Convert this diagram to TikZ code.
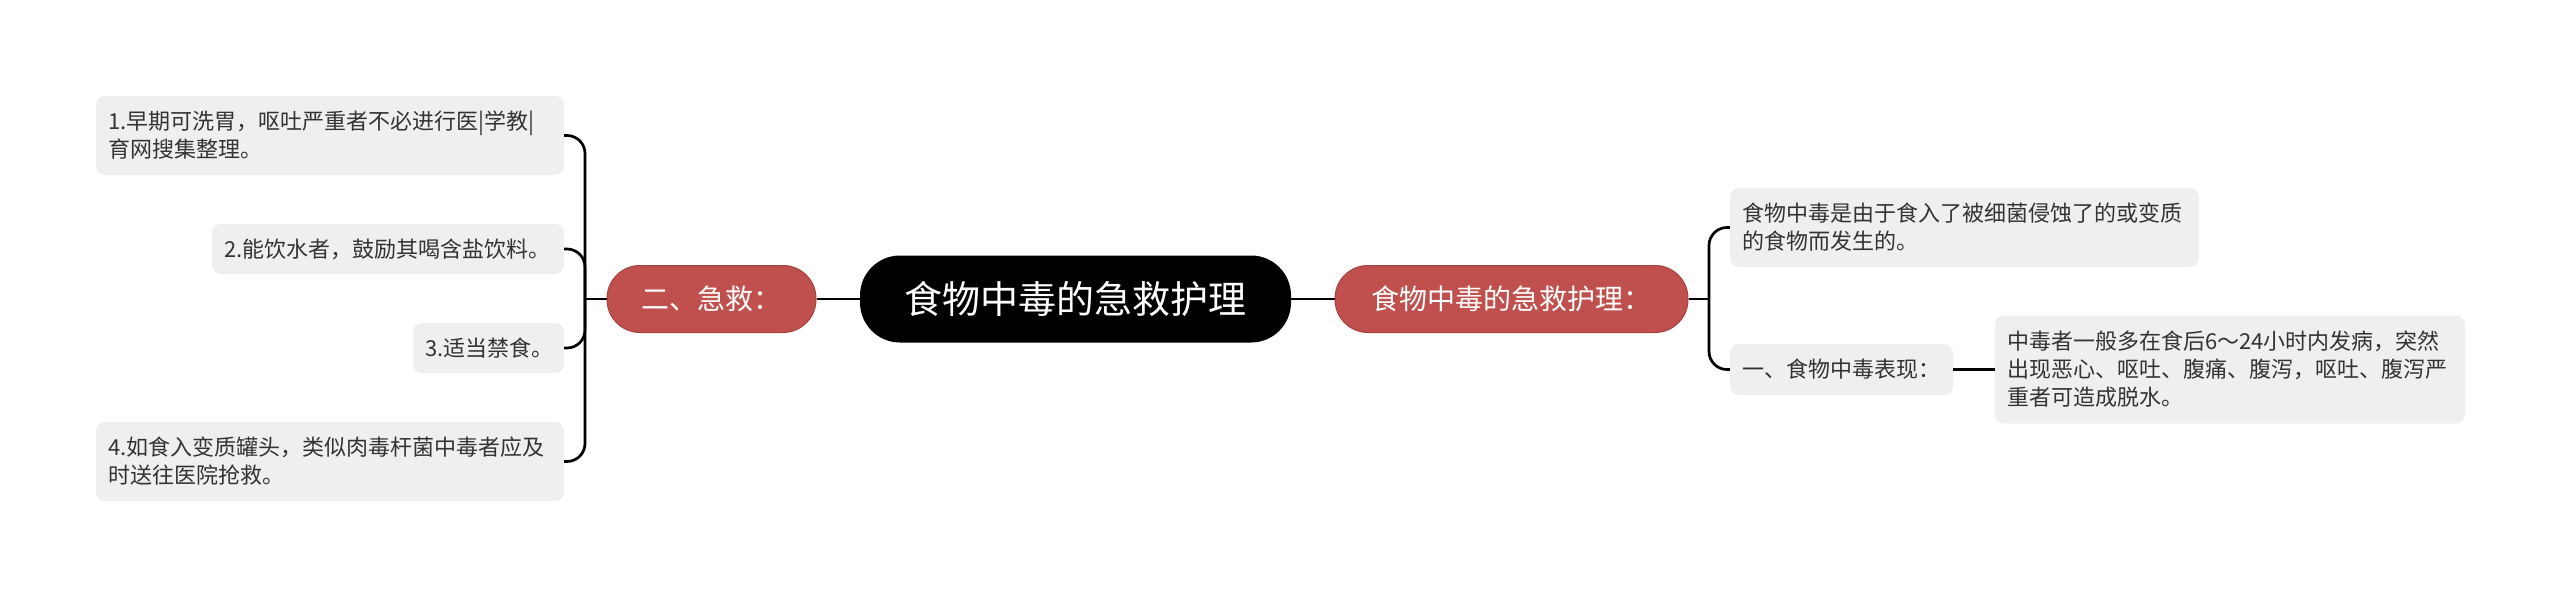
\documentclass[tikz,border=0pt]{standalone}
\usepackage{fontspec}
\setmainfont{Noto Sans CJK SC}
\usetikzlibrary{positioning,calc}
\definecolor{mapred}{HTML}{C0504D}
\definecolor{mapredline}{HTML}{A8423F}
\definecolor{mapgray}{HTML}{EFEFEF}
\tikzset{
  rootbox/.style={fill=black,text=white,rounded corners=40pt,minimum width=431pt,minimum height=87pt,font=\fontsize{38}{44}\selectfont},
  topicbox/.style={fill=mapred,draw=mapredline,line width=1pt,text=white,rounded corners=33pt,minimum height=67pt,font=\fontsize{28}{34}\selectfont},
  leafbox/.style={fill=mapgray,rounded corners=9pt,inner xsep=12pt,inner ysep=0pt,align=left,text=black!80,font=\fontsize{22}{28}\selectfont},
  link/.style={line width=2.7pt},
}

\begin{document}
\begin{tikzpicture}[x=1pt,y=-1pt]
\useasboundingbox (0,0) rectangle (2560,597);

\node[rootbox] (root) at (1075.5,299) {食物中毒的急救护理};
\node[topicbox,minimum width=209pt] (jijiu) at (711.5,299) {二、急救：};
\node[topicbox,minimum width=353pt] (huli) at (1511.5,299) {食物中毒的急救护理：};

% left side
\node[leafbox,text width=444pt,minimum height=79pt] (a1) at (330,135.5) {1.早期可洗胃，呕吐严重者不必进行医|学教|\\育网搜集整理。};
\node[leafbox,text width=328pt,minimum height=50pt] (a2) at (388,249) {2.能饮水者，鼓励其喝含盐饮料。};
\node[leafbox,text width=127pt,minimum height=50pt] (a3) at (488.5,348) {3.适当禁食。};
\node[leafbox,text width=444pt,minimum height=79pt] (a4) at (330,461.5) {4.如食入变质罐头，类似肉毒杆菌中毒者应及\\时送往医院抢救。};

% right side
\node[leafbox,text width=445pt,minimum height=79pt] (b1) at (1964.5,227.5) {食物中毒是由于食入了被细菌侵蚀了的或变质\\的食物而发生的。};
\node[leafbox,text width=199pt,minimum height=51pt] (b2) at (1841.5,369.5) {一、食物中毒表现：};
\node[leafbox,text width=446pt,minimum height=108pt] (b3) at (2230,369.5) {中毒者一般多在食后6～24小时内发病，突然\\出现恶心、呕吐、腹痛、腹泻，呕吐、腹泻严\\重者可造成脱水。};

\coordinate (lfork) at (585,299);
\coordinate (rfork) at (1709,299);

\draw[link] (root.west) -- (jijiu.east);
\draw[link] (root.east) -- (huli.west);
\draw[link] (jijiu.west) -- (lfork);
\draw[link] (huli.east) -- (rfork);
\foreach \n in {a1,a2,a3,a4}
  \draw[link,rounded corners=18pt] (lfork) |- (\n.east);
\foreach \n in {b1,b2}
  \draw[link,rounded corners=18pt] (rfork) |- (\n.west);
\draw[line width=3.5pt] (b2.east) -- (b3.west);
\end{tikzpicture}
\end{document}
